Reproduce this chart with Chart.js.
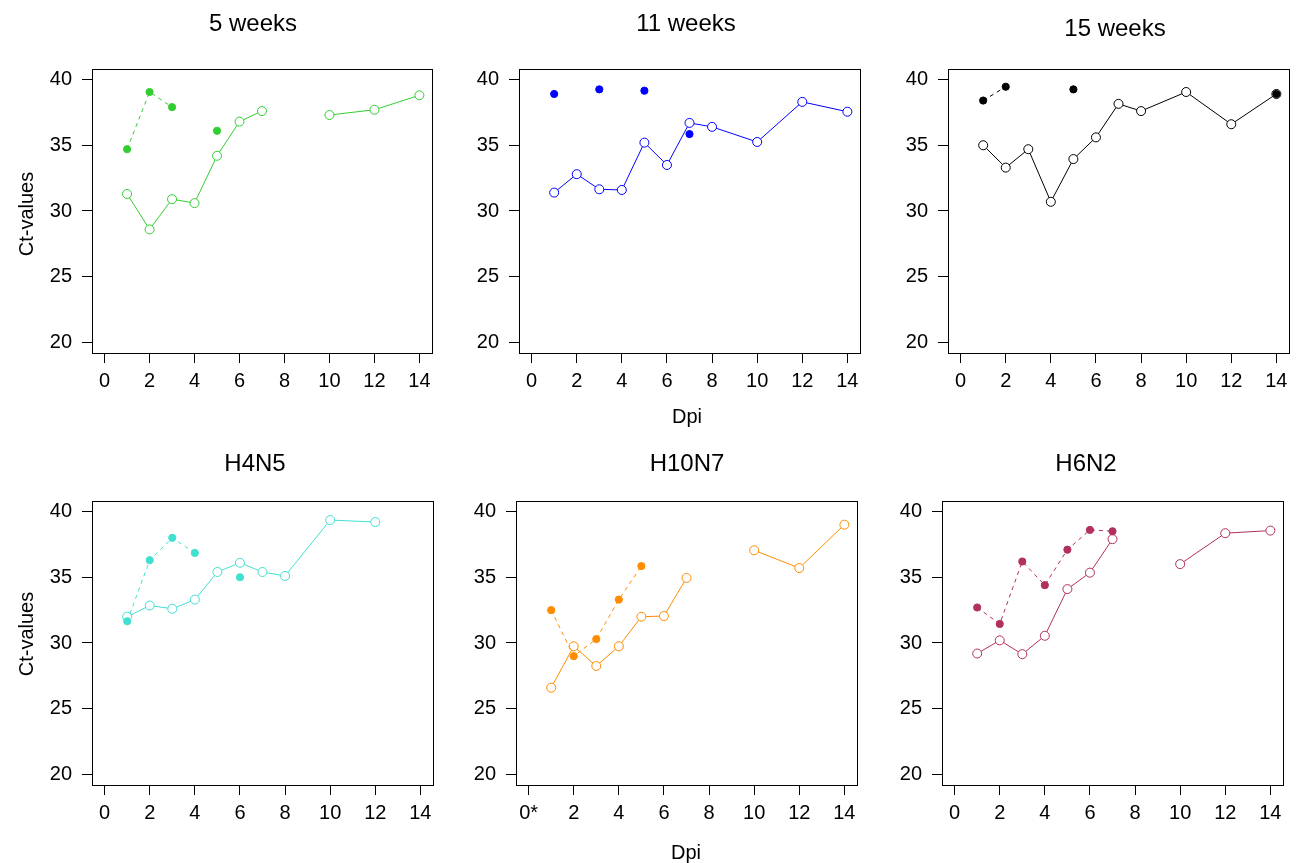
<!DOCTYPE html>
<html lang="en">

<head>
    <meta charset="UTF-8">
    <title>Ct-values by Dpi</title>
    <script src="https://cdn.jsdelivr.net/npm/chart.js@4.4.0/dist/chart.umd.min.js"></script>
    <style>
        body { margin: 0; background: #fff; }
        #page { position: relative; width: 1299px; height: 863px; }
        #page canvas { position: absolute; }
    </style>
</head>

<body>
    <div id="page"></div>

    <script>
        // data ------------------------------------------------------
        const dpi = [1, 2, 3, 4, 5, 6, 7, 8, 10, 12, 14];
        const xTicks = [0, 2, 4, 6, 8, 10, 12, 14];
        const yTicks = [20, 25, 30, 35, 40];

        const titles = ['5 weeks', '11 weeks', '15 weeks', 'H4N5', 'H10N7', 'H6N2'];
        const colors = ['#32CD32', '#0000FF', '#000000', '#40E0D0', '#FF8C00', '#B03060'];

        // open circles, solid line
        const w5Open = [31.3, 28.6, 30.9, 30.6, 34.2, 36.8, 37.6, null, 37.3, 37.7, 38.8];
        const w11Open = [31.4, 32.8, 31.65, 31.6, 35.2, 33.5, 36.7, 36.4, 35.25, 38.3, 37.55];
        const w15Open = [35.0, 33.3, 34.7, 30.7, 33.95, 35.6, 38.15, 37.6, 39.05, 36.6, 38.9];
        const h4n5Open = [32.0, 32.85, 32.6, 33.3, 35.4, 36.1, 35.4, 35.1, 39.35, 39.2, null];
        const h10n7Open = [26.6, 29.75, 28.25, 29.75, 32.0, 32.05, 34.95, null, 37.05, 35.7, 39.0];
        const h6n2Open = [29.2, 30.2, 29.15, 30.55, 34.1, 35.35, 37.9, null, 36.0, 38.35, 38.55];

        // filled dots, dashed line
        const w5Fill = [34.7, 39.05, 37.9, null, 36.1, null, null, null, null, null, null];
        const w11Fill = [38.9, null, 39.25, null, 39.15, null, 35.85, null, null, null, null];
        const w15Fill = [38.4, 39.45, null, null, 39.25, null, null, null, null, null, 38.9];
        const h4n5Fill = [31.65, 36.3, 38.0, 36.85, null, 35.0, null, null, null, null, null];
        const h10n7Fill = [32.5, 29.0, 30.3, 33.3, 35.85, null, null, null, null, null, null];
        const h6n2Fill = [32.7, 31.45, 36.2, 34.4, 37.1, 38.6, 38.5, null, null, null, null];

        const openSeries = [w5Open, w11Open, w15Open, h4n5Open, h10n7Open, h6n2Open];
        const fillSeries = [w5Fill, w11Fill, w15Fill, h4n5Fill, h10n7Fill, h6n2Fill];

        //layout (page pixels) -----------------------------------------
        const font = "'Liberation Sans', Arial, Helvetica, sans-serif";
        const panels = [
            { left: 0, top: 0, width: 440, height: 431, yw: 92, padTop: 69, titleX: 253, titleY: 31 },
            { left: 440, top: 0, width: 428, height: 431, yw: 79, padTop: 69, titleX: 686, titleY: 31 },
            { left: 868, top: 0, width: 429, height: 431, yw: 80, padTop: 69, titleX: 1115, titleY: 36 },
            { left: 0, top: 431, width: 441, height: 432, yw: 92, padTop: 70, titleX: 255, titleY: 471 },
            { left: 441, top: 431, width: 424, height: 432, yw: 75, padTop: 70, titleX: 687, titleY: 471 },
            { left: 865, top: 431, width: 426, height: 432, yw: 77, padTop: 70, titleX: 1086, titleY: 471 }
        ];
        const extraText = [
            [{ text: 'Ct-values', x: 33, y: 214, rotate: true }],
            [{ text: 'Dpi', x: 687, y: 423 }],
            [],
            [{ text: 'Ct-values', x: 33, y: 634, rotate: true }],
            [{ text: 'Dpi', x: 686, y: 859 }],
            []
        ];

        // box around the plot + free text ----------------------------
        const frame = {
            id: 'frame',
            afterDatasetsDraw(chart) {
                const a = chart.chartArea;
                const ctx = chart.ctx;
                ctx.save();
                ctx.strokeStyle = '#000';
                ctx.lineWidth = 1;
                ctx.strokeRect(a.left + 0.5, a.top + 0.5, a.right - a.left, a.bottom - a.top);
                ctx.restore();
            }
        };

        const panelText = {
            id: 'panelText',
            afterDraw(chart, args, opts) {
                const ctx = chart.ctx;
                (opts.items || []).forEach(t => {
                    ctx.save();
                    ctx.font = t.size + 'px ' + font;
                    ctx.fillStyle = '#000';
                    ctx.textAlign = 'center';
                    ctx.textBaseline = 'alphabetic';
                    ctx.translate(t.x - opts.left, t.y - opts.top);
                    if (t.rotate) ctx.rotate(-Math.PI / 2);
                    ctx.fillText(t.text, 0, 0);
                    ctx.restore();
                });
            }
        };

        function toPoints(values) {
            return values.map((v, i) => ({ x: dpi[i], y: v }));
        }

        //charts -------------------------------------------------------
        const page = document.getElementById('page');

        panels.forEach((p, i) => {
            const canvas = document.createElement('canvas');
            canvas.width = p.width;
            canvas.height = p.height;
            canvas.style.left = p.left + 'px';
            canvas.style.top = p.top + 'px';
            page.appendChild(canvas);

            const color = colors[i];
            const items = [{ text: titles[i], x: p.titleX, y: p.titleY, size: 24 }]
                .concat(extraText[i].map(t => Object.assign({ size: 20 }, t)));

            new Chart(canvas.getContext('2d'), {
                type: 'line',
                data: {
                    datasets: [{
                        label: 'filled',
                        data: toPoints(fillSeries[i]),
                        borderColor: color,
                        backgroundColor: color,
                        borderWidth: 1,
                        borderDash: [4, 4],
                        pointRadius: 3.6,
                        pointBorderWidth: 1,
                        pointBackgroundColor: color,
                        spanGaps: false,
                        order: 0
                    }, {
                        label: 'open',
                        data: toPoints(openSeries[i]),
                        borderColor: color,
                        backgroundColor: '#fff',
                        borderWidth: 1,
                        pointRadius: 4.5,
                        pointBorderWidth: 1,
                        pointBackgroundColor: '#fff',
                        spanGaps: false,
                        order: 1
                    }]
                },
                options: {
                    responsive: false,
                    animation: false,
                    events: [],
                    layout: { padding: { top: p.padTop, left: 0, right: 8, bottom: 0 } },
                    scales: {
                        x: {
                            type: 'linear',
                            min: -0.56,
                            max: 14.56,
                            afterBuildTicks: s => { s.ticks = xTicks.map(v => ({ value: v })); },
                            afterFit: s => { s.height = 78; },
                            ticks: {
                                color: '#000',
                                font: { size: 20, family: font },
                                padding: 6,
                                maxRotation: 0,
                                callback: v => (i === 4 && v === 0) ? '0*' : String(v)
                            },
                            grid: { drawOnChartArea: false, drawTicks: true, tickLength: 10, color: '#000', lineWidth: 1 },
                            border: { display: false }
                        },
                        y: {
                            type: 'linear',
                            min: 19.2,
                            max: 40.8,
                            afterBuildTicks: s => { s.ticks = yTicks.map(v => ({ value: v })); },
                            afterFit: s => { s.width = p.yw; },
                            ticks: {
                                color: '#000',
                                font: { size: 20, family: font },
                                padding: 10
                            },
                            grid: { drawOnChartArea: false, drawTicks: true, tickLength: 10, color: '#000', lineWidth: 1 },
                            border: { display: false }
                        }
                    },
                    plugins: {
                        legend: { display: false },
                        tooltip: { enabled: false },
                        panelText: { items: items, left: p.left, top: p.top }
                    }
                },
                plugins: [frame, panelText]
            });
        });
    </script>

</body>

</html>
